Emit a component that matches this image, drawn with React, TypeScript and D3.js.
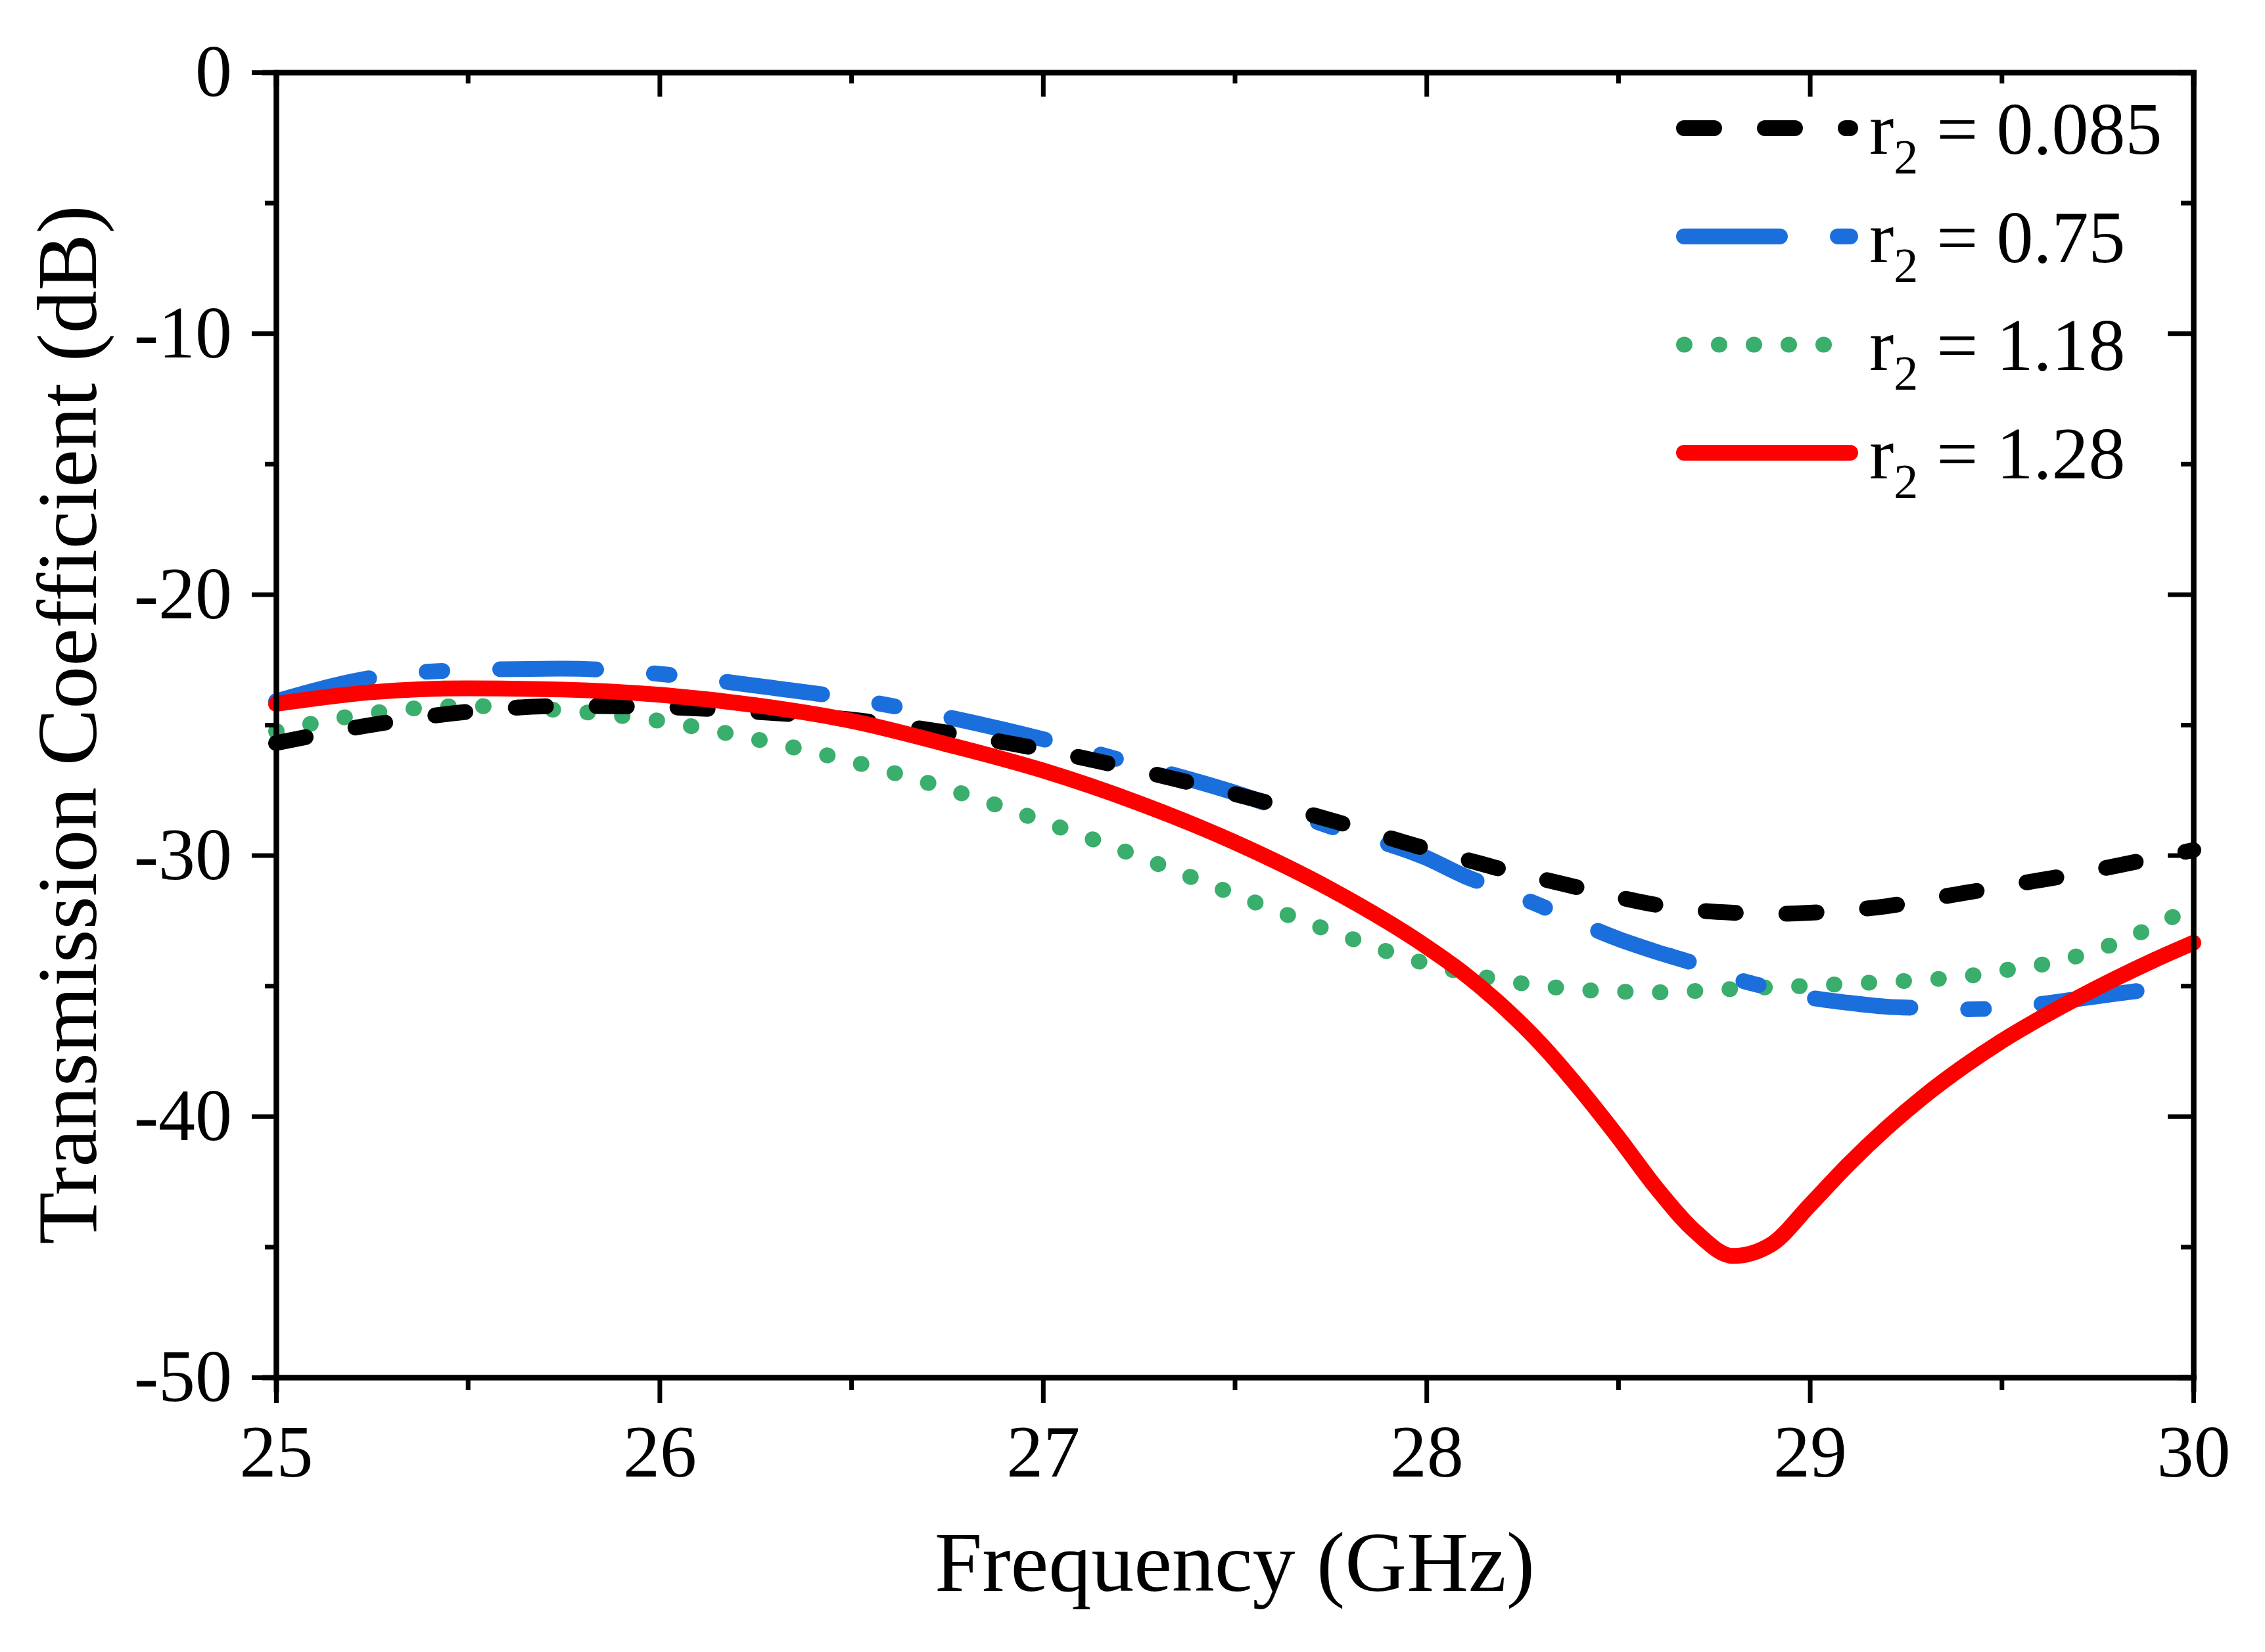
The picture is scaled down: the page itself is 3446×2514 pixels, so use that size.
import React, { useEffect, useRef } from "react";
import * as d3 from "d3";

const freq = [
  25, 25.25, 25.5, 25.75, 26, 26.25, 26.5, 26.75, 27, 27.25, 27.5, 27.75, 28,
  28.1, 28.2, 28.3, 28.4, 28.5, 28.6, 28.7, 28.8, 28.9, 29, 29.1, 29.2, 29.3,
  29.4, 29.5, 29.6, 29.7, 29.8, 29.9, 30,
];

// r2 = 0.085
const r085 = [
  -25.7, -25.0, -24.5, -24.28, -24.32, -24.5, -24.8, -25.3, -25.95, -26.75,
  -27.65, -28.65, -29.75, -30.15, -30.55, -30.9, -31.25, -31.6, -31.9, -32.1,
  -32.2, -32.25, -32.2, -32.1, -31.95, -31.7, -31.45, -31.2, -30.95, -30.7,
  -30.4, -30.1, -29.8,
];

// r2 = 0.75
const r075 = [
  -24.1, -23.2, -22.9, -22.85, -23.05, -23.5, -24.0, -24.7, -25.55, -26.55,
  -27.6, -28.9, -30.1, -30.8, -31.35, -31.95, -32.6, -33.2, -33.7, -34.15,
  -34.7, -35.1, -35.45, -35.65, -35.8, -35.85, -35.9, -35.85, -35.7, -35.5,
  -35.3, -35.1, -34.8,
];

// r2 = 1.18
const r118 = [
  -25.25, -24.55, -24.28, -24.45, -24.85, -25.55, -26.4, -27.45, -28.7, -30.05,
  -31.5, -32.9, -34.15, -34.5, -34.8, -35.0, -35.15, -35.22, -35.25, -35.2,
  -35.12, -35.05, -35.0, -34.92, -34.85, -34.77, -34.65, -34.42, -34.2, -33.85,
  -33.35, -32.7, -31.95,
];

// r2 = 1.28
const r128 = [
  -24.2, -23.75, -23.6, -23.65, -23.85, -24.25, -24.85, -25.75, -26.75, -28.0,
  -29.5, -31.3, -33.5, -34.55, -35.8, -37.25, -38.95, -40.8, -42.75, -44.4,
  -45.35, -44.9, -43.4, -41.85, -40.45, -39.2, -38.1, -37.12, -36.25, -35.45,
  -34.7, -34.0, -33.35,
];

const legendValues = ["0.085", "0.75", "1.18", "1.28"];
const xMajor = [25, 26, 27, 28, 29, 30];
const xMinor = [25.5, 26.5, 27.5, 28.5, 29.5];
const yMajor = [0, -10, -20, -30, -40, -50];
const yMinor = [-5, -15, -25, -35, -45];

const series = [
  { values: r085, color: "#000000", dash: "46 77", legend: 0 },
  { values: r075, color: "#1B6FDC", dash: "146 88 24 88", legend: 1 },
  { values: r118, color: "#3AAE6C", dash: "1 52", legend: 2 },
  { values: r128, color: "#FF0000", dash: "none", legend: 3 },
];
// drawing order: green, blue, black, red on top
const drawOrder = [2, 1, 0, 3];

const FONT = "'Liberation Serif', 'Times New Roman', serif";

const App: React.FC = () => {
  const svgRef = useRef<SVGSVGElement | null>(null);
  const width = 3446;
  const height = 2514;

  useEffect(() => {
    const margin = { top: 110, right: 109, bottom: 418, left: 420 };
    const innerWidth = width - margin.left - margin.right;
    const innerHeight = height - margin.top - margin.bottom;

    const svg = d3.select(svgRef.current);
    svg.selectAll("*").remove();

    const g = svg
      .append("g")
      .attr("transform", `translate(${margin.left},${margin.top})`);

    const x = d3.scaleLinear().domain([25, 30]).range([0, innerWidth]);
    const y = d3.scaleLinear().domain([-50, 0]).range([innerHeight, 0]);

    const line = d3
      .line<number>()
      .x((_, i) => x(freq[i]))
      .y((d) => y(d))
      .curve(d3.curveMonotoneX);

    drawOrder.forEach((k) => {
      const s = series[k];
      g.append("path")
        .datum(s.values)
        .attr("fill", "none")
        .attr("stroke", s.color)
        .attr("stroke-width", 24)
        .attr("stroke-linecap", "round")
        .attr("stroke-linejoin", "round")
        .attr("stroke-dasharray", s.dash)
        .attr("d", line);
    });

    const styleAxis = (sel: any, fontSize = 112) => {
      sel.select(".domain")
        .attr("stroke", "#000")
        .attr("stroke-width", 8)
        .attr("stroke-linecap", "square");
      sel.selectAll(".tick line").attr("stroke", "#000").attr("stroke-width", 7);
      sel.selectAll(".tick text")
        .attr("fill", "#000")
        .style("font-family", FONT)
        .style("font-size", `${fontSize}px`);
    };

    // minor ticks first
    g.append("g")
      .attr("transform", `translate(0,${innerHeight})`)
      .call(d3.axisBottom(x).tickValues(xMinor).tickSize(19).tickFormat(() => ""))
      .call((s) => styleAxis(s));
    g.append("g")
      .call(d3.axisLeft(y).tickValues(yMinor).tickSize(17).tickFormat(() => ""))
      .call((s) => styleAxis(s));
    g.append("g")
      .call(d3.axisTop(x).tickValues(xMinor).tickSize(-17).tickFormat(() => ""))
      .call((s) => styleAxis(s));
    g.append("g")
      .attr("transform", `translate(${innerWidth},0)`)
      .call(d3.axisRight(y).tickValues(yMinor).tickSize(-19).tickFormat(() => ""))
      .call((s) => styleAxis(s));

    // major ticks
    g.append("g")
      .attr("transform", `translate(0,${innerHeight})`)
      .call(
        d3.axisBottom(x).tickValues(xMajor).tickSize(39).tickSizeOuter(0).tickPadding(32).tickFormat(d3.format("d"))
      )
      .call((s) => styleAxis(s));
    g.append("g")
      .call(
        d3.axisLeft(y).tickValues(yMajor).tickSize(37).tickSizeOuter(0).tickPadding(30).tickFormat((d) => `${d}`.replace("−", "-"))
      )
      .call((s) => styleAxis(s));
    g.append("g")
      .call(d3.axisTop(x).tickValues(xMajor).tickSize(-37).tickSizeOuter(0).tickFormat(() => ""))
      .call((s) => styleAxis(s));
    g.append("g")
      .attr("transform", `translate(${innerWidth},0)`)
      .call(d3.axisRight(y).tickValues(yMajor).tickSize(-39).tickSizeOuter(0).tickFormat(() => ""))
      .call((s) => styleAxis(s));

    // axis titles
    svg.append("text")
      .attr("x", margin.left + innerWidth / 2)
      .attr("y", 2421)
      .attr("text-anchor", "middle")
      .style("font-family", FONT)
      .style("font-size", "130px")
      .text("Frequency (GHz)");

    svg.append("text")
      .attr("transform", `translate(146,${margin.top + innerHeight / 2}) rotate(-90)`)
      .attr("text-anchor", "middle")
      .style("font-family", FONT)
      .style("font-size", "130px")
      .text("Transmission Coefficient (dB)");

    // legend
    const legend = svg.append("g").attr("transform", "translate(2562,195)");
    series.forEach((s, i) => {
      const row = legend.append("g").attr("transform", `translate(0,${i * 164.7})`);
      row.append("line")
        .attr("x1", 0)
        .attr("x2", 253)
        .attr("y1", 0)
        .attr("y2", 0)
        .attr("stroke", s.color)
        .attr("stroke-width", 24)
        .attr("stroke-linecap", "round")
        .attr("stroke-dasharray", s.dash);
      const t = row.append("text")
        .attr("x", 282)
        .attr("y", 39)
        .style("font-family", FONT)
        .style("font-size", "112px");
      t.append("tspan").text("r");
      t.append("tspan").attr("dy", 30).style("font-size", "74px").text("2");
      t.append("tspan").attr("dy", -30).text(` = ${legendValues[s.legend]}`);
    });
  }, []);

  return (
    <div style={{ position: "absolute", left: 0, top: 0, background: "#fff" }}>
      <svg ref={svgRef} width={width} height={height}></svg>
    </div>
  );
};

export default App;
